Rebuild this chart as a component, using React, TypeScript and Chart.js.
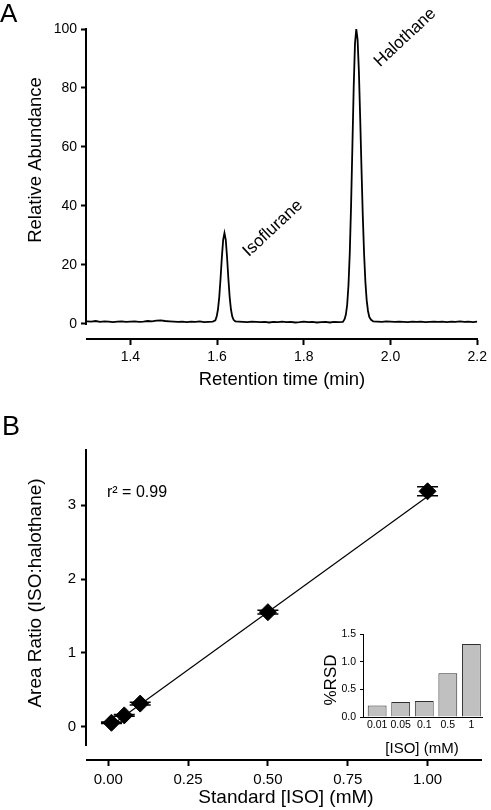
import React, { useEffect, useRef } from "react";
import { Chart, registerables } from "chart.js";

Chart.register(...registerables);

const FONT = "'Liberation Sans', Arial, Helvetica, sans-serif";

// ---------- Panel A: chromatogram ----------
const retentionTime = [
  1.30, 1.31, 1.32, 1.33, 1.34, 1.35, 1.36, 1.37, 1.38, 1.39,
  1.40, 1.41, 1.42, 1.43, 1.44, 1.45, 1.46, 1.47, 1.48, 1.49,
  1.50, 1.51, 1.52, 1.53, 1.54, 1.55, 1.56, 1.57, 1.58, 1.59,
  1.596, 1.599, 1.602, 1.605, 1.608, 1.611, 1.614, 1.617, 1.620, 1.623,
  1.626, 1.629, 1.632, 1.635, 1.638, 1.642,
  1.65, 1.66, 1.67, 1.68, 1.69, 1.70, 1.71, 1.72, 1.73, 1.74,
  1.75, 1.76, 1.77, 1.78, 1.79, 1.80, 1.81, 1.82, 1.83, 1.84,
  1.85, 1.86, 1.87, 1.88, 1.89,
  1.894, 1.897, 1.900, 1.903, 1.906, 1.909, 1.912, 1.915, 1.918, 1.921,
  1.924, 1.927, 1.930, 1.933, 1.936, 1.939, 1.942, 1.945, 1.948, 1.951,
  1.955, 1.960,
  1.97, 1.98, 1.99, 2.00, 2.01, 2.02, 2.03, 2.04, 2.05, 2.06,
  2.07, 2.08, 2.09, 2.10, 2.11, 2.12, 2.13, 2.14, 2.15, 2.16,
  2.17, 2.18, 2.19, 2.20,
];
const relAbundance = [
  0.9, 0.8, 1.0, 0.7, 0.9, 0.8, 0.6, 0.8, 0.9, 0.7,
  0.8, 0.9, 0.7, 0.8, 1.0, 0.9, 1.1, 1.2, 1.0, 0.9,
  0.8, 0.7, 0.8, 0.6, 0.8, 0.7, 0.9, 0.6, 0.7, 0.8,
  1.2, 2.5, 4.9, 9.1, 15.4, 22.6, 28.5, 30.8, 28.5, 22.6,
  15.4, 9.1, 4.9, 2.5, 1.4, 0.9,
  0.8, 0.7, 0.6, 0.8, 0.7, 0.6, 0.7, 0.5, 0.7, 0.6,
  0.8, 0.6, 0.7, 0.5, 0.6, 0.8, 0.6, 0.7, 0.5, 0.6,
  0.7, 0.5, 0.7, 0.6, 0.7,
  1.6, 3.2, 6.5, 13.1, 24.1, 40.2, 60.0, 80.0, 95.1, 100.0,
  96.4, 85.7, 69.8, 52.7, 36.7, 23.7, 14.2, 8.0, 4.4, 2.4,
  1.4, 0.9,
  0.8, 0.7, 0.9, 0.8, 0.7, 0.8, 0.7, 0.6, 0.8, 0.7,
  0.8, 0.6, 0.7, 0.8, 0.7, 0.8, 0.6, 0.8, 0.7, 0.9,
  0.7, 0.8, 0.6, 0.8,
];
const chromXTicks = [1.4, 1.6, 1.8, 2.0, 2.2];
const chromYTicks = [0, 20, 40, 60, 80, 100];
const peakNames = ["Isoflurane", "Halothane"];
const peakLabelTime = [1.7285, 2.0336];
const peakLabelAbund = [32.4, 97.1];

// ---------- Panel B: calibration ----------
const standardConc = [0.01, 0.05, 0.1, 0.5, 1.0];
const areaRatio = [0.05, 0.15, 0.31, 1.55, 3.19];
const areaRatioErr = [0.01, 0.012, 0.02, 0.025, 0.06];
const fitConc = [0.01, 1.0];
const fitRatio = [0.015, 3.12];
const calXTicks = [0, 0.25, 0.5, 0.75, 1.0];
const calYTicks = [0, 1, 2, 3];

// ---------- Inset: %RSD ----------
const rsdConcLabels = ["0.01", "0.05", "0.1", "0.5", "1"];
const rsdValues = [0.21, 0.27, 0.29, 0.79, 1.32];
const rsdYTicks = [0, 0.5, 1.0, 1.5];

type TextItem = {
  text: string;
  x: number;
  y: number;
  size: number;
  rotate?: number;
  align?: CanvasTextAlign;
  baseline?: CanvasTextBaseline;
};

function makeTextPlugin(id: string, getItems: (chart: any) => TextItem[]) {
  return {
    id,
    afterDraw(chart: any) {
      const ctx: CanvasRenderingContext2D = chart.ctx;
      for (const it of getItems(chart)) {
        ctx.save();
        ctx.translate(it.x, it.y);
        if (it.rotate) ctx.rotate((it.rotate * Math.PI) / 180);
        ctx.font = `${it.size}px ${FONT}`;
        ctx.fillStyle = "#000";
        ctx.textAlign = it.align ?? "center";
        ctx.textBaseline = it.baseline ?? "middle";
        ctx.fillText(it.text, 0, 0);
        ctx.restore();
      }
    },
  };
}

function makeYAxisLine(from: number, to: number, width: number) {
  return {
    id: "yAxisLine",
    afterDraw(chart: any) {
      const ctx: CanvasRenderingContext2D = chart.ctx;
      const ys = chart.scales.y;
      const x = Math.round(chart.chartArea.left) - width / 2 + (width % 2 ? 0.5 : 0);
      ctx.save();
      ctx.strokeStyle = "#000";
      ctx.lineWidth = width;
      ctx.beginPath();
      ctx.moveTo(x, ys.getPixelForValue(to) - width / 2);
      ctx.lineTo(x, ys.getPixelForValue(from) + width / 2);
      ctx.stroke();
      ctx.restore();
    },
  };
}

const errorBarPlugin = {
  id: "errorBars",
  afterDatasetsDraw(chart: any) {
    const ctx: CanvasRenderingContext2D = chart.ctx;
    const xs = chart.scales.x;
    const ys = chart.scales.y;
    ctx.save();
    ctx.strokeStyle = "#000";
    ctx.lineWidth = 1.5;
    standardConc.forEach((c, i) => {
      const px = xs.getPixelForValue(c);
      const pTop = ys.getPixelForValue(areaRatio[i] + areaRatioErr[i]);
      const pBot = ys.getPixelForValue(areaRatio[i] - areaRatioErr[i]);
      ctx.beginPath();
      ctx.moveTo(px, pTop);
      ctx.lineTo(px, pBot);
      ctx.moveTo(px - 10.5, pTop);
      ctx.lineTo(px + 10.5, pTop);
      ctx.moveTo(px - 10.5, pBot);
      ctx.lineTo(px + 10.5, pBot);
      ctx.stroke();
    });
    ctx.restore();
  },
};

function axisCommon(size: number, tickLen: number, tickW: number, pad: number) {
  return {
    ticks: {
      font: { family: FONT, size },
      color: "#000",
      padding: pad,
      maxRotation: 0,
      autoSkip: false,
    },
    grid: {
      display: true,
      drawOnChartArea: false,
      drawTicks: tickLen > 0,
      tickLength: tickLen,
      tickWidth: tickW,
      tickColor: "#000",
    },
  };
}

export default function App() {
  const refA = useRef<HTMLCanvasElement>(null);
  const refB = useRef<HTMLCanvasElement>(null);
  const refC = useRef<HTMLCanvasElement>(null);

  useEffect(() => {
    const charts: Chart[] = [];

    // Panel A
    const axA = axisCommon(14, 6, 2, 4);
    charts.push(
      new Chart(refA.current!, {
        type: "line",
        data: {
          datasets: [
            {
              data: retentionTime.map((t, i) => ({ x: t, y: relAbundance[i] })),
              borderColor: "#000",
              borderWidth: 1.8,
              pointRadius: 0,
              tension: 0,
              fill: false,
            },
          ],
        },
        options: {
          responsive: false,
          animation: false,
          events: [],
          layout: { padding: { top: 29, right: 10, left: 0, bottom: 0 } },
          plugins: { legend: { display: false }, tooltip: { enabled: false } },
          scales: {
            x: {
              type: "linear",
              min: 1.3,
              max: 2.2,
              afterBuildTicks: (s: any) => {
                s.ticks = chromXTicks.map((v) => ({ value: v }));
              },
              afterFit: (s: any) => {
                s.height = 61;
              },
              ticks: { ...axA.ticks, callback: (v: any) => Number(v).toFixed(1) },
              grid: axA.grid,
              border: { display: true, color: "#000", width: 2 },
            },
            y: {
              type: "linear",
              min: -5.1,
              max: 100,
              afterBuildTicks: (s: any) => {
                s.ticks = chromYTicks.map((v) => ({ value: v }));
              },
              afterFit: (s: any) => {
                s.width = 87;
              },
              ticks: { ...axA.ticks, callback: (v: any) => String(v) },
              grid: axA.grid,
              border: { display: false },
            },
          },
        } as any,
        plugins: [
          makeYAxisLine(0, 100, 2),
          makeTextPlugin("textA", (chart) => {
            const xs = chart.scales.x;
            const ys = chart.scales.y;
            const items: TextItem[] = [
              { text: "A", x: 0, y: 22, size: 26, align: "left", baseline: "alphabetic" },
              { text: "Relative Abundance", x: 36, y: 160, size: 18.5, rotate: -90 },
              { text: "Retention time (min)", x: 282, y: 380, size: 18.5 },
            ];
            peakNames.forEach((n, i) =>
              items.push({
                text: n,
                x: xs.getPixelForValue(peakLabelTime[i]),
                y: ys.getPixelForValue(peakLabelAbund[i]),
                size: 17,
                rotate: -43,
              })
            );
            return items;
          }),
        ],
      })
    );

    // Panel B
    const axB = axisCommon(15, 6, 2, 5);
    charts.push(
      new Chart(refB.current!, {
        type: "scatter",
        data: {
          datasets: [
            {
              type: "line",
              data: fitConc.map((c, i) => ({ x: c, y: fitRatio[i] })),
              borderColor: "#000",
              borderWidth: 1.2,
              pointRadius: 0,
              showLine: true,
              fill: false,
            },
            {
              data: standardConc.map((c, i) => ({ x: c, y: areaRatio[i] })),
              pointStyle: "rectRot",
              pointRadius: 8.5,
              backgroundColor: "#000",
              borderColor: "#000",
              borderWidth: 1,
              showLine: false,
            },
          ],
        },
        options: {
          responsive: false,
          animation: false,
          events: [],
          layout: { padding: { top: 50, right: 9, left: 0, bottom: 0 } },
          plugins: { legend: { display: false }, tooltip: { enabled: false } },
          scales: {
            x: {
              type: "linear",
              min: -0.0666,
              max: 1.169,
              afterBuildTicks: (s: any) => {
                s.ticks = calXTicks.map((v) => ({ value: v }));
              },
              afterFit: (s: any) => {
                s.height = 50;
              },
              ticks: { ...axB.ticks, callback: (v: any) => Number(v).toFixed(2) },
              grid: axB.grid,
              border: { display: true, color: "#000", width: 2 },
            },
            y: {
              type: "linear",
              min: -0.455,
              max: 3.75,
              afterBuildTicks: (s: any) => {
                s.ticks = calYTicks.map((v) => ({ value: v }));
              },
              afterFit: (s: any) => {
                s.width = 87;
              },
              ticks: { ...axB.ticks, callback: (v: any) => String(v) },
              grid: axB.grid,
              border: { display: false },
            },
          },
        } as any,
        plugins: [
          makeYAxisLine(-0.25, 3.75, 2),
          errorBarPlugin,
          makeTextPlugin("textB", () => [
            { text: "B", x: 2, y: 35, size: 27, align: "left", baseline: "alphabetic" },
            { text: "Area Ratio (ISO:halothane)", x: 36, y: 193, size: 19, rotate: -90 },
            { text: "Standard [ISO] (mM)", x: 286, y: 398, size: 19 },
            { text: "r\u00B2 = 0.99", x: 107, y: 97, size: 16, align: "left", baseline: "alphabetic" },
          ]),
        ],
      })
    );

    // Inset
    const axC = axisCommon(10.5, 3, 1, 4);
    charts.push(
      new Chart(refC.current!, {
        type: "bar",
        data: {
          datasets: [
            {
              data: rsdValues.map((v, i) => ({ x: i + 1, y: v })),
              backgroundColor: "#c0c0c0",
              borderColor: "#2e2e2e",
              borderWidth: 1,
              barPercentage: 0.8,
              categoryPercentage: 1.0,
            },
          ],
        },
        options: {
          responsive: false,
          animation: false,
          events: [],
          layout: { padding: { top: 14, right: 9, left: 0, bottom: 0 } },
          plugins: { legend: { display: false }, tooltip: { enabled: false } },
          scales: {
            x: {
              type: "linear",
              offset: false,
              min: 0.4,
              max: 5.45,
              afterBuildTicks: (s: any) => {
                s.ticks = rsdConcLabels.map((_, i) => ({ value: i + 1 }));
              },
              afterFit: (s: any) => {
                s.height = 48;
              },
              ticks: {
                ...axC.ticks,
                padding: 2,
                callback: (v: any) => rsdConcLabels[Math.round(Number(v)) - 1] ?? "",
              },
              grid: { ...axC.grid, drawTicks: false, offset: false },
              border: { display: true, color: "#000", width: 1 },
            },
            y: {
              type: "linear",
              min: 0,
              max: 1.5,
              afterBuildTicks: (s: any) => {
                s.ticks = rsdYTicks.map((v) => ({ value: v }));
              },
              afterFit: (s: any) => {
                s.width = 48;
              },
              ticks: { ...axC.ticks, callback: (v: any) => Number(v).toFixed(1) },
              grid: axC.grid,
              border: { display: true, color: "#000", width: 1 },
            },
          },
        } as any,
        plugins: [
          makeTextPlugin("textC", () => [
            { text: "%RSD", x: 16, y: 60, size: 17, rotate: -90 },
            { text: "[ISO] (mM)", x: 107, y: 129, size: 15 },
          ]),
        ],
      })
    );

    return () => charts.forEach((c) => c.destroy());
  }, []);

  const base: React.CSSProperties = { position: "absolute", display: "block" };
  return (
    <div style={{ position: "absolute", left: 0, top: 0, width: 491, height: 810, background: "#fff" }}>
      <canvas ref={refA} width={491} height={400} style={{ ...base, left: 0, top: 0, width: 491, height: 400 }} />
      <canvas ref={refB} width={491} height={410} style={{ ...base, left: 0, top: 400, width: 491, height: 410 }} />
      <canvas ref={refC} width={176} height={145} style={{ ...base, left: 315, top: 620, width: 176, height: 145 }} />
    </div>
  );
}
